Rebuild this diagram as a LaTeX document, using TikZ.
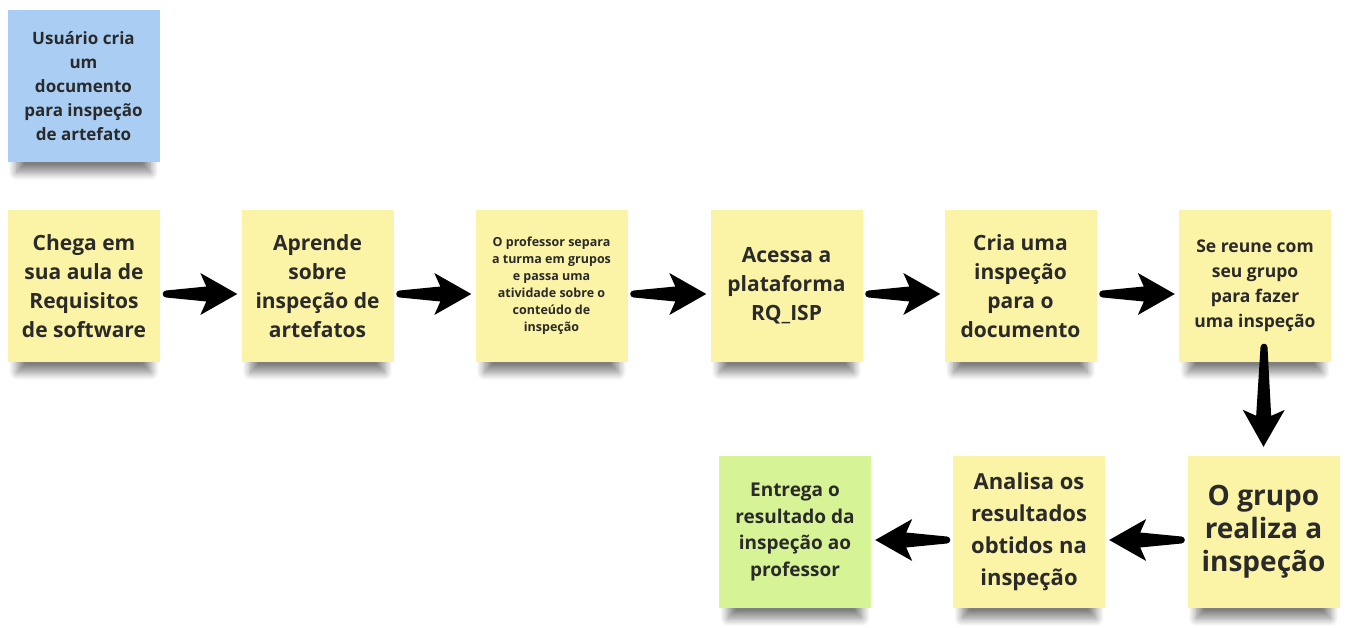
\documentclass[tikz,border=0pt]{standalone}
\usepackage{fontspec}
\setmainfont{Open Sans}
\usepackage{tikz}
\usetikzlibrary{calc,shadows.blur}

\definecolor{stickyyellow}{HTML}{FBF3A6}
\definecolor{stickyblue}{HTML}{A9CDF3}
\definecolor{stickygreen}{HTML}{D6F396}
\definecolor{inkgray}{HTML}{2A2A2A}

\begin{document}
\begin{tikzpicture}[x=1pt, y=-1pt,
	note/.style={fill=stickyyellow, minimum width=152pt, minimum height=152pt,
		inner sep=4pt, align=center, text=inkgray, font=\bfseries,
		blur shadow={shadow xshift=0pt, shadow yshift=-22pt, shadow scale=0.88,
			shadow opacity=50, shadow blur radius=9pt, shadow blur steps=12}},
	% tapered block arrow from start to target
	flow/.style={fill=black, line join=round, to path={
		let \p1=(\tikztostart), \p2=(\tikztotarget),
			\n1={atan2(\y2-\y1,\x2-\x1)}, \n2={veclen(\x2-\x1,\y2-\y1)} in
		{[shift={(\p1)}, rotate=\n1, x=1pt, y=1pt]
			(0,-3.5) -- (\n2-31,-7.5) -- (\n2-37,-21) -- (\n2,0) -- (\n2-37,21)
			-- (\n2-31,7.5) -- (0,3.5) arc(90:270:3.5) -- cycle}}}]
% page frame
	\useasboundingbox (0,0) rectangle (1354,628);
% first row
	\node[note, fill=stickyblue, font=\bfseries\fontsize{17}{24}\selectfont] (user) at (83.5,86)
		{Usuário cria\\um\\documento\\para inspeção\\de artefato};
	\node[note, font=\bfseries\fontsize{21}{29}\selectfont] (aula) at (84,286)
		{Chega em\\sua aula de\\Requisitos\\de software};
	\node[note, font=\bfseries\fontsize{21}{29}\selectfont] (aprende) at (317.5,286)
		{Aprende\\sobre\\inspeção de\\artefatos};
	\node[note, font=\bfseries\fontsize{12.5}{17}\selectfont] (separa) at (551.5,286)
		{O professor separa\\a turma em grupos\\e passa uma\\atividade sobre o\\conteúdo de\\inspeção};
	\node[note, font=\bfseries\fontsize{21}{29}\selectfont] (acessa) at (786.5,286)
		{Acessa a\\plataforma\\RQ\_ISP};
	\node[note, font=\bfseries\fontsize{21}{29}\selectfont] (cria) at (1020.5,286)
		{Cria uma\\inspeção\\para o\\documento};
	\node[note, font=\bfseries\fontsize{17.5}{25}\selectfont] (reune) at (1255,286)
		{Se reune com\\seu grupo\\para fazer\\uma inspeção};
% second row
	\node[note, font=\bfseries\fontsize{28}{33}\selectfont] (grupo) at (1263.5,532)
		{O grupo\\realiza a\\inspeção};
	\node[note, font=\bfseries\fontsize{22}{32}\selectfont] (analisa) at (1029,532)
		{Analisa os\\resultados\\obtidos na\\inspeção};
	\node[note, fill=stickygreen, font=\bfseries\fontsize{19}{26.5}\selectfont] (entrega) at (795,532)
		{Entrega o\\resultado da\\inspeção ao\\professor};
% arrows
	\path[flow] ([shift={(6pt,-8pt)}]aula.east) to ([shift={(-4pt,-8pt)}]aprende.west);
	\path[flow] ([shift={(6pt,-8pt)}]aprende.east) to ([shift={(-4pt,-8pt)}]separa.west);
	\path[flow] ([shift={(6pt,-8pt)}]separa.east) to ([shift={(-4pt,-8pt)}]acessa.west);
	\path[flow] ([shift={(6pt,-8pt)}]acessa.east) to ([shift={(-4pt,-8pt)}]cria.west);
	\path[flow] ([shift={(6pt,-8pt)}]cria.east) to ([shift={(-4pt,-8pt)}]reune.west);
	\path[flow] ([shift={(9pt,15pt)}]reune.south) to ([shift={(0pt,9pt)}]grupo.north);
	\path[flow] ([shift={(-6pt,-8pt)}]grupo.west) to ([shift={(4pt,-8pt)}]analisa.east);
	\path[flow] ([shift={(-6pt,-8pt)}]analisa.west) to ([shift={(4pt,-8pt)}]entrega.east);
\end{tikzpicture}
\end{document}
